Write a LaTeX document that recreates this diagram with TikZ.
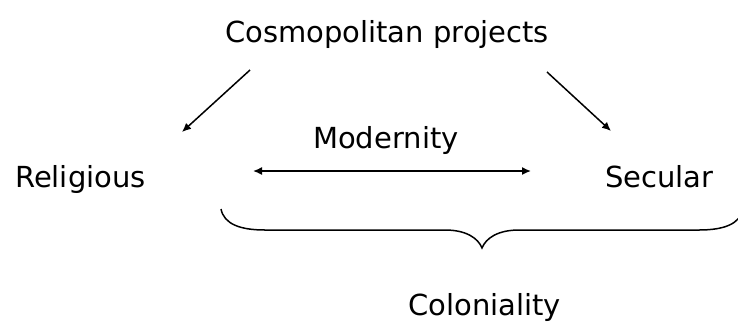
\documentclass[tikz,border=0pt]{standalone}
\usepackage{fontspec}
\setmainfont{DejaVu Sans}
\usetikzlibrary{arrows.meta}
\begin{document}
\begin{tikzpicture}[x=1pt,y=-1pt,
  lbl/.style={anchor=base west,inner sep=0pt,font=\fontsize{29}{34}\selectfont},
  conn/.style={line width=1.5pt,-{Latex[length=9pt,width=8pt]}},
  dconn/.style={line width=1.5pt,{Latex[length=9pt,width=8pt]}-{Latex[length=9pt,width=8pt]}},
  bracepath/.style={line width=1.5pt}]
\useasboundingbox (0,0) rectangle (738,325);
\clip (0,0) rectangle (738,325);
\node[lbl] (cosmo) at (225,42) {Cosmopolitan projects};
\node[lbl] (relig) at (15,187) {Religious};
\node[lbl] (secul) at (605,187) {Secular};
\node[lbl] (modern) at (313,148) {Modernity};
\node[lbl] (colon) at (408,315) {Coloniality};
\coordinate (la) at (250,70);
\coordinate (lb) at (182,132);
\coordinate (ra) at (547,72);
\coordinate (rb) at (611,131);
\coordinate (ma) at (253,171);
\coordinate (mb) at (531,171);
\draw[conn] (la) -- (lb);
\draw[conn] (ra) -- (rb);
\draw[dconn] (ma) -- (mb);
\coordinate (bl) at (221,209);
\coordinate (bt) at (482,248);
\coordinate (br) at (743,209);
\draw[bracepath] (bl) .. controls (224,224) and (240,230) .. (265,230) -- (445,230)
  .. controls (466,230) and (478,238) .. (bt)
  .. controls (486,238) and (498,230) .. (519,230) -- (699,230)
  .. controls (724,230) and (740,224) .. (br);
\end{tikzpicture}
\end{document}
